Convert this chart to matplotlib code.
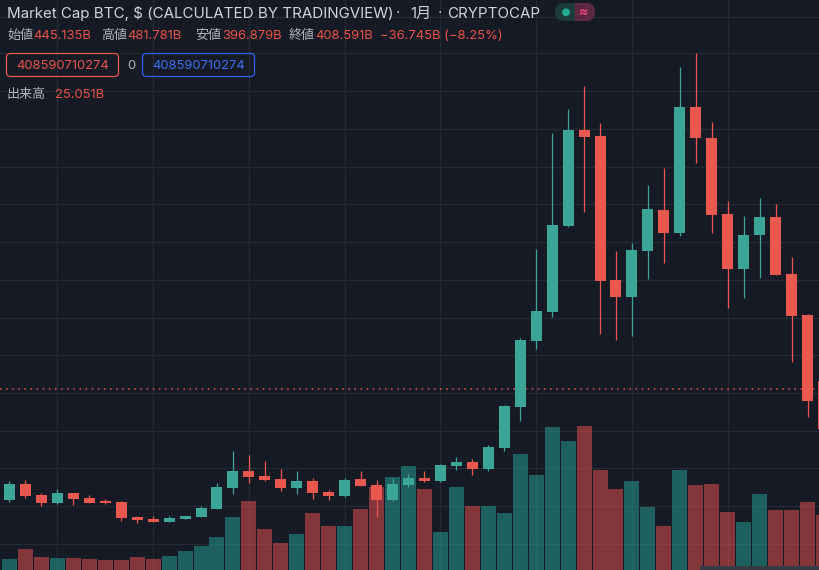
import numpy as np
import matplotlib.pyplot as plt
from matplotlib.patches import FancyBboxPatch, Rectangle, Circle
from matplotlib.transforms import IdentityTransform

plt.rcParams['font.family'] = ['Inter', 'Noto Sans CJK JP', 'DejaVu Sans']

# Monthly candles, market cap in billions of $
open_ = [116.3, 158.4, 129.5, 108.4, 134.7, 121.6, 113.7, 111.0, 71.5, 66.3,
         58.4, 66.3, 71.5, 92.6, 147.9, 192.7, 179.5, 171.6, 147.9, 166.3,
         137.4, 126.8, 171.6, 155.8, 116.3, 155.8, 174.2, 166.3, 205.8, 216.4,
         197.9, 253.2, 361.2, 534.9, 611.3, 837.7, 1090.5, 1074.7, 695.6, 650.8,
         771.9, 879.9, 819.3, 1151.1, 1069.4, 869.3, 724.5, 814.0, 861.4, 711.4,
         603.4, 429.6]
high = [166.3, 169.0, 134.7, 145.3, 134.7, 129.5, 118.9, 113.7, 74.2, 74.2,
        74.2, 74.2, 100.5, 161.1, 245.3, 234.8, 219.0, 197.9, 192.7, 174.2,
        142.6, 174.2, 192.7, 169.0, 174.2, 184.8, 192.7, 211.1, 229.5, 224.3,
        261.1, 366.4, 542.9, 777.2, 1082.6, 1145.8, 1206.4, 1108.9, 771.9, 793.0,
        945.7, 990.5, 1256.4, 1293.3, 1111.6, 903.6, 864.1, 911.5, 895.7, 756.1,
        606.0, 437.5]
low = [111.0, 121.6, 100.5, 105.8, 103.1, 108.4, 105.8, 61.0, 55.7, 58.4,
       58.4, 66.3, 71.5, 92.6, 132.1, 161.1, 166.3, 140.0, 132.1, 118.9,
       116.3, 124.2, 153.2, 71.5, 113.7, 150.5, 163.7, 163.7, 195.3, 182.1,
       192.7, 245.3, 324.3, 513.9, 598.1, 835.1, 874.6, 553.4, 537.6, 548.1,
       698.2, 740.3, 811.4, 1003.6, 819.3, 621.8, 648.2, 700.8, 708.7, 479.7,
       334.8, 284.8]
close = [158.4, 126.8, 108.4, 134.7, 118.9, 108.4, 108.4, 68.9, 63.6, 58.4,
         68.9, 74.2, 95.2, 150.5, 192.7, 176.8, 169.0, 147.9, 166.3, 134.7,
         126.8, 169.0, 153.2, 116.3, 158.4, 174.2, 166.3, 208.5, 216.4, 197.9,
         255.9, 363.8, 537.6, 613.9, 840.4, 1090.5, 1072.1, 692.9, 650.8, 774.5,
         882.5, 819.3, 1151.1, 1069.4, 866.7, 724.5, 814.0, 861.4, 708.7, 600.8,
         377.0, 303.2]
volume = [5.0, 9.6, 5.9, 5.5, 5.5, 5.0, 4.6, 4.6, 5.9, 5.0,
          6.4, 8.7, 10.9, 15.0, 24.1, 31.4, 18.7, 12.3, 16.4, 26.0,
          20.0, 20.0, 27.8, 37.8, 42.4, 47.4, 36.9, 17.3, 37.8, 29.2,
          29.2, 26.0, 52.8, 43.3, 65.1, 58.8, 65.6, 45.6, 36.9, 40.5,
          28.7, 20.0, 45.6, 38.7, 39.2, 26.4, 21.9, 34.6, 27.3, 27.3,
          31.0, 25.1]
last_price = 408.59
grid_levels = [1, 100, 200, 299, 398, 497, 596, 696, 796, 895, 994, 1093, 1192, 1292, 1389]
month_grid = [3, 9, 15, 21, 27, 33, 39, 45, 51]

bg = '#161a25'
grid_c = '#252934'
up = '#3ba697'
down = '#e8584f'
up_vol = '#26a69a'
down_vol = '#ef5350'
txt = '#d1d4dc'
lbl = '#b2b5be'
red_txt = '#e5534b'
blue = '#2e62f0'

W, H = 819, 570
fig = plt.figure(figsize=(W / 100, H / 100), dpi=100)
fig.patch.set_facecolor(bg)

n = len(open_)
x = np.arange(n)
xlim = (-0.594, 50.72)

# volume pane (drawn first, sits behind the candles)
axv = fig.add_axes([0, 0, 1, 1])
axv.set_facecolor(bg)
for g in month_grid:
    axv.axvline(g, color=grid_c, lw=1, zorder=0)
axv.set_xlim(xlim)
axv.set_ylim(0, 259.6)
vcol = [up_vol if c >= o else down_vol for o, c in zip(open_, close)]
axv.bar(x, volume, width=0.94, color=vcol, alpha=0.5, zorder=2)
axv.axis('off')

ax = fig.add_axes([0, 0, 1, 1], label='price')
ax.set_facecolor('none')
ax.set_xlim(xlim)
ax.set_ylim(-68.0, 1432.8)
for g in grid_levels:
    axv.axhline((g + 68.0) / 1500.8 * 259.6, color=grid_c, lw=1, zorder=0)

ccol = [up if c >= o else down for o, c in zip(open_, close)]
ax.vlines(x, low, high, color=ccol, lw=0.9, zorder=3)
bottoms = np.minimum(open_, close)
heights = np.maximum(np.abs(np.array(close) - np.array(open_)), 2.0)
ax.bar(x, heights, bottom=bottoms, width=0.69, color=ccol, zorder=4)
ax.axhline(last_price, color=down, lw=1.1, ls=(0, (1, 3)), zorder=2)
ax.axis('off')


def fx(px):
    return px / W


def fy(py):
    return 1 - py / H


# header
fig.text(fx(7), fy(18), 'Market Cap BTC, $ (CALCULATED BY TRADINGVIEW)', color=txt, fontsize=10.9)
fig.text(fx(396), fy(18), '·', color=lbl, fontsize=11)
fig.text(fx(410), fy(18), '1月', color=txt, fontsize=10.9)
fig.text(fx(438), fy(18), '·', color=lbl, fontsize=11)
fig.text(fx(447), fy(18), 'CRYPTOCAP', color=txt, fontsize=10.9)

ident = IdentityTransform()
pill_l = FancyBboxPatch((555, H - 21), 40, 18, boxstyle='round,pad=0,rounding_size=9',
                        fc='#1d3b3a', ec='none', transform=ident)
fig.add_artist(pill_l)
pill_r = FancyBboxPatch((555, H - 21), 40, 18, boxstyle='round,pad=0,rounding_size=9',
                        fc='#5c2940', ec='none', transform=ident)
fig.add_artist(pill_r)
clip = Rectangle((575, H - 22), 21, 20, transform=ident)
pill_r.set_clip_path(clip)
fig.add_artist(Circle((566, H - 12.3), 3.9, fc='#22ab94', ec='none', transform=ident))
fig.text(fx(584), fy(12), '≈', color='#f0457a', fontsize=10, ha='center', va='center',
         fontweight='bold')

parts = [(7, '始値', lbl), (33, '445.135B', red_txt), (101, '高値', lbl), (127, '481.781B', red_txt),
         (195, '安値', lbl), (222, '396.879B', red_txt), (289, '終値', lbl), (315, '408.591B', red_txt),
         (380, '−36.745B (−8.25%)', red_txt)]
for px, s, c in parts:
    fig.text(fx(px), fy(39), s, color=c, fontsize=9.4)

# value boxes
for x0, c in [(6, down), (142, blue)]:
    fig.add_artist(FancyBboxPatch((x0 + 0.5, H - 76.5), 112, 23, boxstyle='round,pad=0,rounding_size=4',
                                  fc='none', ec=c, lw=0.9, transform=ident))
fig.text(fx(62.5), fy(69), '408590710274', color=red_txt, fontsize=9.4, ha='center')
fig.text(fx(131), fy(69), '0', color=lbl, fontsize=9.4, ha='center')
fig.text(fx(198.5), fy(69), '408590710274', color='#3d6ff0', fontsize=9.4, ha='center')

fig.text(fx(7), fy(98), '出来高', color=lbl, fontsize=9.4)
fig.text(fx(55), fy(98), '25.051B', color=red_txt, fontsize=9.4)

# scrollbar strip at the bottom right
fig.add_artist(Rectangle((700, 0), 119, 4, fc='#363a45', ec='none', transform=ident))

fig.savefig('out.png', dpi=100, facecolor=bg)
